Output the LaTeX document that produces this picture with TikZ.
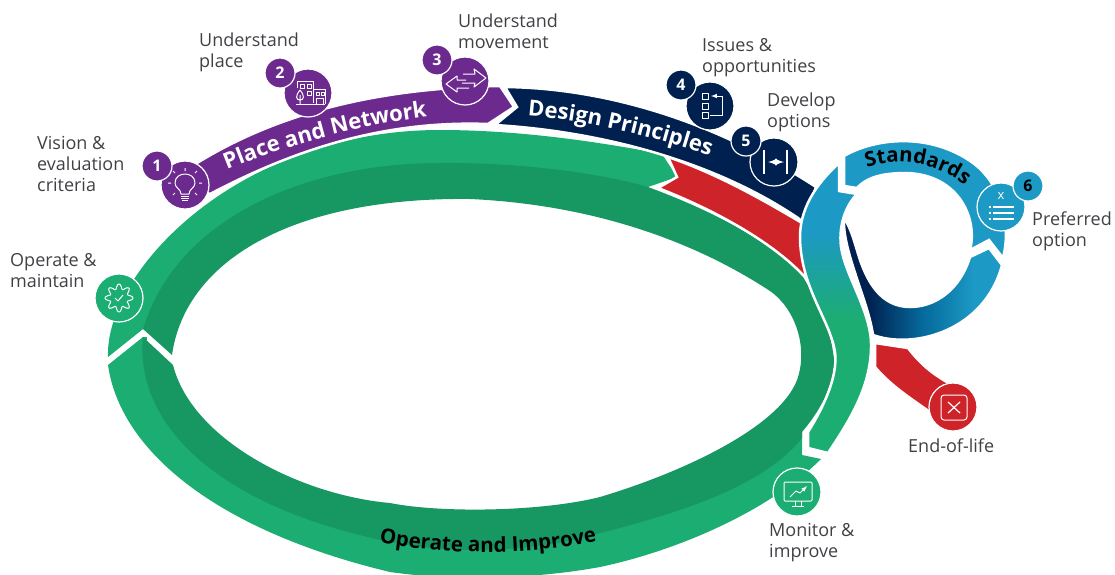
\documentclass[tikz,border=0pt]{standalone}
\usepackage{fontspec}
\setmainfont{Open Sans}
\usetikzlibrary{decorations.text}

\definecolor{ringlight}{HTML}{1CAD72}
\definecolor{ringdark}{HTML}{179863}
\definecolor{placepurple}{HTML}{6C2A8F}
\definecolor{designnavy}{HTML}{00204F}
\definecolor{endred}{HTML}{CF232A}
\definecolor{stdblue}{HTML}{1C99C4}
\definecolor{stdmid}{HTML}{05699B}
\definecolor{labelgrey}{HTML}{3F4145}

\pgfdeclareverticalshading{sband}{100bp}{color(0bp)=(ringlight); color(48bp)=(ringlight); color(63bp)=(stdblue); color(100bp)=(stdblue)}
\pgfdeclarehorizontalshading{loopband}{100bp}{color(0bp)=(designnavy); color(33bp)=(designnavy); color(50bp)=(stdmid); color(66bp)=(stdblue); color(100bp)=(stdblue)}

\newcommand{\labelfont}{\fontsize{18}{21}\selectfont}
\newcommand{\bannerfont}{\fontsize{22}{26}\selectfont\bfseries}
\newcommand{\ringfont}{\fontsize{20.5}{24}\selectfont\bfseries}

\tikzset{
    band/.style = {draw = white, line width = 2.5pt, line join = miter},
    stage/.style = {circle, draw = white, line width = 1.2pt, minimum size = 48pt, inner sep = 0pt},
    badge/.style = {circle, draw = white, line width = 1.2pt, minimum size = 30pt, inner sep = 0pt,
        text = white, font = \fontsize{16}{18}\selectfont\bfseries},
    icon/.style = {draw = white, line width = 1pt, line join = round},
    caption/.style = {anchor = west, align = left, inner sep = 0pt, text = labelgrey, font = \labelfont}
}

\begin{document}
\begin{tikzpicture}[x=1pt, y=-1pt]
    \useasboundingbox (0,0) rectangle (1115,574);

    \fill [ringlight] (108,365) .. controls (120,450) and (215,530) .. (390,572)
        .. controls (460,582) and (540,578) .. (600,567) .. controls (680,550) and (770,510) .. (821,459)
        -- (802,455) -- (802,430) .. controls (760,485) and (670,510) .. (593,530)
        .. controls (540,545) and (460,551) .. (390,537) .. controls (215,490) and (140,415) .. (147,337) -- (143,337) -- cycle;
    \fill [ringlight] (108,357) .. controls (105,270) and (240,130) .. (440,130)
        .. controls (520,130) and (600,142) .. (662,154)
        -- (677,177) -- (648,187) -- (648,190) .. controls (590,174) and (500,166) .. (440,167)
        .. controls (310,167) and (182,218) .. (147,329) -- (143,329) -- cycle;
    \fill [ringdark] (143,337) .. controls (135,420) and (210,505) .. (390,542)
        .. controls (460,556) and (540,550) .. (593,535) .. controls (670,515) and (760,490) .. (802,438)
        -- (802,432) .. controls (825,405) and (838,375) .. (833,352) .. controls (830,330) and (820,305) .. (803,277)
        .. controls (770,240) and (710,210) .. (648,187)
        .. controls (590,170) and (500,162) .. (440,163) .. controls (310,163) and (178,215) .. (143,329)
        -- (172,355) .. controls (185,262) and (290,197) .. (470,199) .. controls (600,205) and (700,245) .. (770,291)
        .. controls (797,310) and (808,350) .. (797,380) .. controls (780,425) and (690,470) .. (600,497)
        .. controls (540,512) and (440,513) .. (390,503) .. controls (300,495) and (192,440) .. (173,365) -- cycle;

    \path [band, fill = endred] (668,157) .. controls (715,173) and (760,198) .. (802,223) -- (806,277)
        -- (803,275) .. controls (770,240) and (710,208) .. (658,188) -- (677,177) -- cycle;
    \path [band, fill = designnavy] (505,87) .. controls (600,88) and (710,118) .. (816,187)
        -- (803,222) -- (798,218) .. controls (720,165) and (610,132) .. (495,125) -- (517,107) -- cycle;
    \path [band, fill = placepurple] (185,185) -- (197,163) .. controls (280,112) and (380,88) .. (500,86)
        -- (514,107) -- (488,124) .. controls (380,120) and (290,152) .. (210,194) -- cycle;

    \path [band, fill = endred] (875,343) -- (908,348) .. controls (925,370) and (940,378) .. (952,385)
        -- (952,412) -- (930,412) .. controls (910,398) and (890,385) .. (875,367) -- cycle;
    \path [band, fill = stdblue] (844,156) .. controls (875,138) and (930,132) .. (973,163)
        .. controls (1000,183) and (1012,222) .. (1003,258) -- (989,240) -- (970,250)
        .. controls (978,220) and (960,175) .. (907,173) .. controls (885,173) and (868,176) .. (857,188) -- (844,186) -- cycle;
    \path [band, shade, shading = loopband] (1002,265) -- (989,248) -- (970,257)
        .. controls (960,290) and (935,307) .. (910,307) .. controls (880,307) and (867,280) .. (860,260)
        .. controls (855,245) and (852,230) .. (844,218) .. controls (842,250) and (868,300) .. (873,335)
        .. controls (915,350) and (985,330) .. (1002,265) -- cycle;
    \path [band, shade, shading = sband] (839,163) -- (839,191) -- (857,194)
        .. controls (848,203) and (838,222) .. (841,247) .. controls (845,275) and (870,310) .. (871,343)
        .. controls (872,385) and (850,420) .. (828,453) -- (808,448) -- (808,432)
        .. controls (825,405) and (838,375) .. (835,352) .. controls (830,320) and (802,290) .. (800,240)
        .. controls (799,210) and (815,185) .. (839,163) -- cycle;

    \path [decorate, decoration = {text along path, text align = center,
        text = {|\bannerfont\color{white}|Place and Network}}] (215,175) .. controls (290,143) and (360,125) .. (440,115);
    \path [decorate, decoration = {text along path, text align = center,
        text = {|\bannerfont\color{white}|Design Principles}}] (515,115) .. controls (575,118) and (650,135) .. (722,160);
    \path [decorate, decoration = {text along path, text align = center,
        text = {|\ringfont\color{black}|Standards}}] (858,171) .. controls (890,155) and (940,160) .. (972,192);
    \path [decorate, decoration = {text along path, text align = center,
        text = {|\ringfont\color{black}|Operate and Improve}}] (370,541) .. controls (450,556) and (530,556) .. (606,539);

    \node (vision) [stage, fill = placepurple] at (185,185) {};
    \node (place) [stage, fill = placepurple] at (308,93) {};
    \node (movement) [stage, fill = placepurple] at (465,81) {};
    \node (issues) [stage, fill = designnavy] at (710,106) {};
    \node (develop) [stage, fill = designnavy] at (774,162) {};
    \node (preferred) [stage, fill = stdblue] at (1001,207) {};
    \node (maintain) [stage, fill = ringlight] at (119,298) {};
    \node (monitor) [stage, fill = ringlight] at (797,492) {};
    \node (endlife) [stage, fill = endred] at (953,407) {};

    \node (one) [badge, fill = placepurple] at (157,166) {1};
    \node (two) [badge, fill = placepurple] at (280,73) {2};
    \node (three) [badge, fill = placepurple] at (437,60) {3};
    \node (four) [badge, fill = designnavy] at (681,85) {4};
    \node (five) [badge, fill = designnavy] at (746,141) {5};
    \node (six) [badge, fill = stdblue, text = black] at (1028,186) {6};

    \begin{scope}[shift = {(vision.center)}, icon]
        \draw (-4,9) .. controls (-4,4) and (-10,3) .. (-10,-2) .. controls (-10,-8) and (-5,-11) .. (0,-11)
            .. controls (5,-11) and (10,-8) .. (10,-2) .. controls (10,3) and (4,4) .. (4,9) -- cycle;
        \draw (-4,11) -- (4,11) (-4,13) -- (4,13) (-3,15) -- (3,15);
        \draw (0,-14) -- (0,-17) (-10,-12) -- (-12,-14) (10,-12) -- (12,-14) (-14,-2) -- (-17,-2)
            (14,-2) -- (17,-2) (-10,8) -- (-12,10) (10,8) -- (12,10);
    \end{scope}
    \begin{scope}[shift = {(place.center)}, icon]
        \draw (-11,-5) -- (-11,-12) -- (5,-12) -- (5,10) (6,-4) -- (17,-4) -- (17,11) (-12,11) -- (17,11);
        \draw (-8,-9) rectangle (-4,-5) (-1,-9) rectangle (3,-5) (-1,-2) rectangle (3,2);
        \draw (8,-1) rectangle (11,2) (13,-1) rectangle (16,2) (8,11) -- (8,5) -- (15,5) -- (15,11);
        \draw (-8,-3) .. controls (-13,3) and (-12,7) .. (-8,7) .. controls (-4,7) and (-3,3) .. (-8,-3) (-8,2) -- (-8,11);
    \end{scope}
    \begin{scope}[shift = {(movement.center)}, icon]
        \draw (-2,-7) -- (10,-7) -- (9,-12) -- (21,-3) -- (9,6) -- (10,2) -- (-3,2);
        \draw (1,-1) -- (-8,-1) -- (-8,-5) -- (-19,3) -- (-8,11) -- (-8,7) -- (4,7);
    \end{scope}
    \begin{scope}[shift = {(issues.center)}, icon]
        \draw (-8,-13) rectangle (-2,-7) (-8,-3) rectangle (-2,3) (-8,6) rectangle (-2,12);
        \draw [->, >=latex] (12,-10) -- (12,9) -- (0,9) (12,-10) -- (1,-10);
    \end{scope}
    \begin{scope}[shift = {(develop.center)}, icon]
        \draw [line width = 1.2pt] (-10,-12) -- (-10,12) (13,-12) -- (13,12);
        \draw [latex-latex, line width = 2pt] (-6,0) -- (10,0);
    \end{scope}
    \begin{scope}[shift = {(preferred.center)}, icon]
        \node (mark) [text = white, font = \fontsize{13}{14}\selectfont] at (0,-11) {x};
        \draw [line width = 1.2pt] (-8,0) -- (13,0) (-8,6) -- (13,6) (-8,12) -- (13,12);
        \draw [line width = 1.2pt] (-12,0) -- (-10,0) (-12,6) -- (-10,6) (-12,12) -- (-10,12);
    \end{scope}
    \begin{scope}[shift = {(maintain.center)}, icon]
        \draw plot[domain = 0:360, samples = 97, smooth] (\x:{11.5 + 2.5*cos(8*\x)}) -- cycle;
        \draw (-4,0) -- (-1,3) -- (4,-3);
    \end{scope}
    \begin{scope}[shift = {(monitor.center)}, icon]
        \draw [rounded corners = 1pt] (-13,-10) rectangle (15,9);
        \draw (-2,9) -- (-2,14) (4,9) -- (4,14) (-5,14) -- (7,14);
        \draw [->, >=latex] (-7,5) -- (-1,-1) -- (3,1) -- (10,-6);
    \end{scope}
    \begin{scope}[shift = {(endlife.center)}, icon]
        \draw [rounded corners = 3pt] (-12,-12) rectangle (14,13);
        \draw [line width = 1.2pt] (-5,-5) -- (7,6) (7,-5) -- (-5,6);
    \end{scope}

    \node (visionlabel) [caption] at (37,164) {Vision \&\\evaluation\\criteria};
    \node (placelabel) [caption] at (199,52) {Understand\\place};
    \node (movementlabel) [caption] at (458,31) {Understand\\movement};
    \node (issueslabel) [caption] at (702,58) {Issues \&\\opportunities};
    \node (developlabel) [caption] at (767,112) {Develop\\options};
    \node (preferredlabel) [caption] at (1032,231) {Preferred\\option};
    \node (maintainlabel) [caption] at (10,271) {Operate \&\\maintain};
    \node (endlifelabel) [caption] at (908,446) {End-of-life};
    \node (monitorlabel) [caption] at (769,543) {Monitor \&\\improve};
\end{tikzpicture}
\end{document}
